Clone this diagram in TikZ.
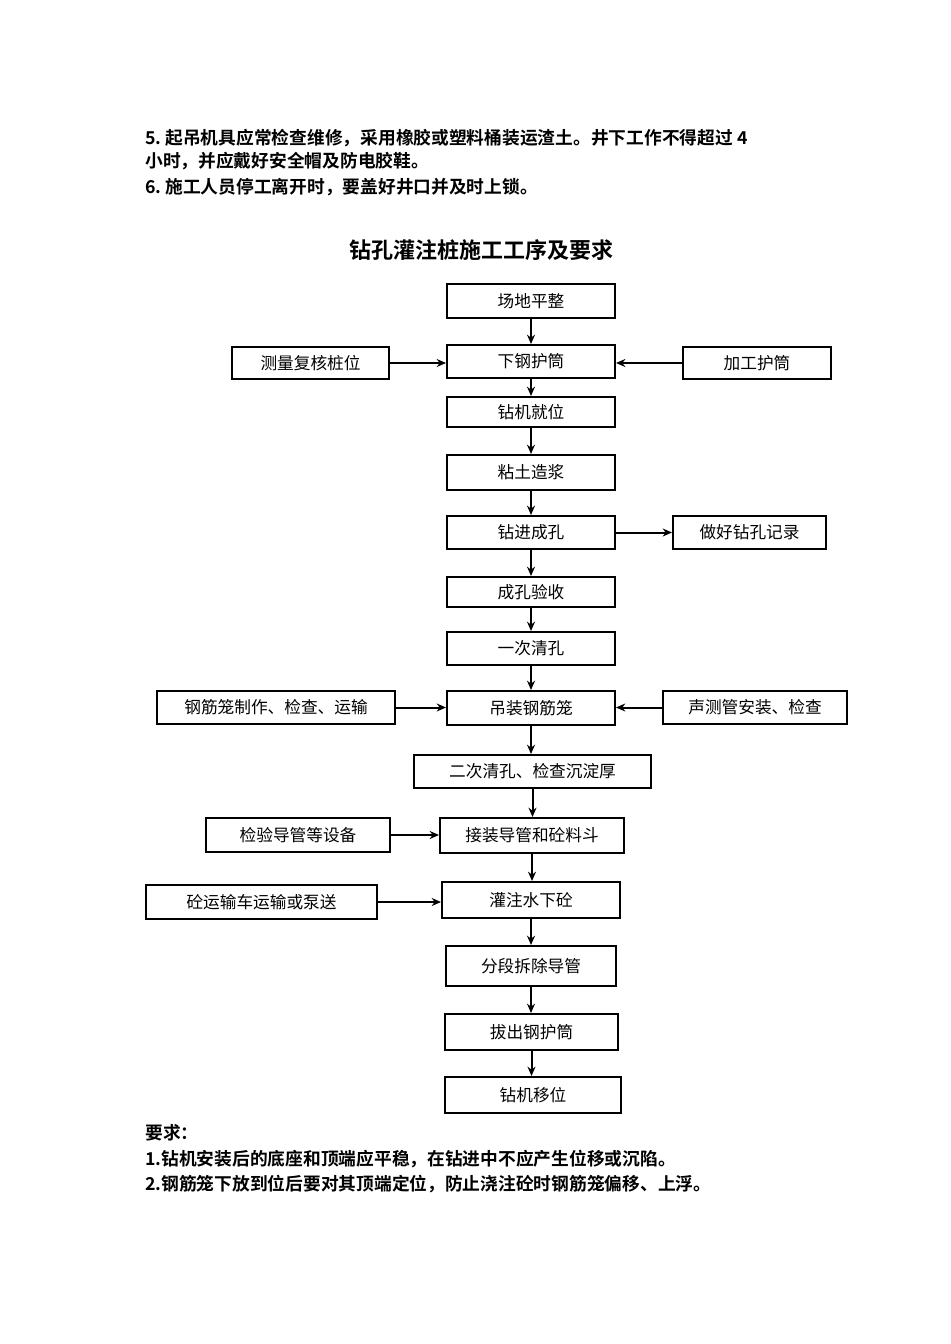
\documentclass[tikz,border=0pt]{standalone}
\usepackage{fontspec}
\usetikzlibrary{arrows.meta}
\newfontfamily\cjk{Noto Sans CJK SC}
\newfontfamily\cjkb{Noto Sans CJK SC Bold}
\begin{document}
\begin{tikzpicture}[x=0.75pt,y=-0.75pt,
  bx/.style={draw,line width=1.5pt,inner sep=0pt,font=\cjk\fontsize{12.5}{14}\selectfont},
  ar/.style={-{Stealth[length=7pt,width=6pt]},line width=1.5pt},
  tx/.style={anchor=west,inner sep=0pt,font=\cjkb\fontsize{13.3}{15}\selectfont}]
\useasboundingbox (0,0) rectangle (950,1344);
\newcommand{\B}[6]{\node[bx,minimum width={(#4-#3)*0.75pt},minimum height={(#6-#5)*0.75pt}] (#1) at ({(#3+#4)/2},{(#5+#6)/2}) {#2};}
\B{a}{场地平整}{447}{615}{284}{318}
\B{b}{下钢护筒}{447}{615}{345}{378}
\B{bl}{测量复核桩位}{232}{389}{347}{379}
\B{br}{加工护筒}{683}{831}{347}{379}
\B{c}{钻机就位}{447}{615}{397}{427}
\B{d}{粘土造浆}{447}{615}{455}{490}
\B{e}{钻进成孔}{447}{615}{516}{549}
\B{er}{做好钻孔记录}{673}{826}{516}{549}
\B{f}{成孔验收}{447}{615}{577}{607}
\B{g}{一次清孔}{447}{615}{632}{665}
\B{h}{吊装钢筋笼}{447}{615}{691}{725}
\B{hl}{钢筋笼制作、检查、运输}{157}{395}{691}{724}
\B{hr}{声测管安装、检查}{663}{847}{691}{724}
\B{i}{二次清孔、检查沉淀厚}{414}{651}{755}{788}
\B{j}{接装导管和砼料斗}{440}{624}{818}{853}
\B{jl}{检验导管等设备}{206}{390}{818}{852}
\B{k}{灌注水下砼}{442}{620}{882}{918}
\B{kl}{砼运输车运输或泵送}{146}{377}{885}{919}
\B{l}{分段拆除导管}{446}{616}{946}{986}
\B{m}{拔出钢护筒}{445}{618}{1014}{1050}
\B{n}{钻机移位}{445}{621}{1077}{1113}
\foreach \u/\v in {a/b,b/c,c/d,d/e,e/f,f/g,g/h,h/i,i/j,j/k,k/l,l/m,m/n}
  \draw[ar] (\u.south) -- (\u.south |- \v.north);
\draw[ar] (bl) -- (bl -| b.west); \draw[ar] (br) -- (br -| b.east);
\draw[ar] (e) -- (er);
\draw[ar] (hl) -- (hl -| h.west); \draw[ar] (hr) -- (hr -| h.east);
\draw[ar] (jl) -- (jl -| j.west); \draw[ar] (kl) -- (kl -| k.west);
\node[tx] (t1) at (145,138) {5.\ 起吊机具应常检查维修，采用橡胶或塑料桶装运渣土。井下工作不得超过 4};
\node[tx] (t2) at (145,161) {小时，并应戴好安全帽及防电胶鞋。};
\node[tx] (t3) at (145,187) {6.\ 施工人员停工离开时，要盖好井口并及时上锁。};
\node[inner sep=0pt,font=\cjkb\fontsize{16.5}{18}\selectfont] (title) at (481,250) {钻孔灌注桩施工工序及要求};
\node[tx] (r0) at (145,1133) {要求：};
\node[tx] (r1) at (145,1159) {1.钻机安装后的底座和顶端应平稳，在钻进中不应产生位移或沉陷。};
\node[tx] (r2) at (145,1184) {2.钢筋笼下放到位后要对其顶端定位，防止浇注砼时钢筋笼偏移、上浮。};
\end{tikzpicture}
\end{document}
